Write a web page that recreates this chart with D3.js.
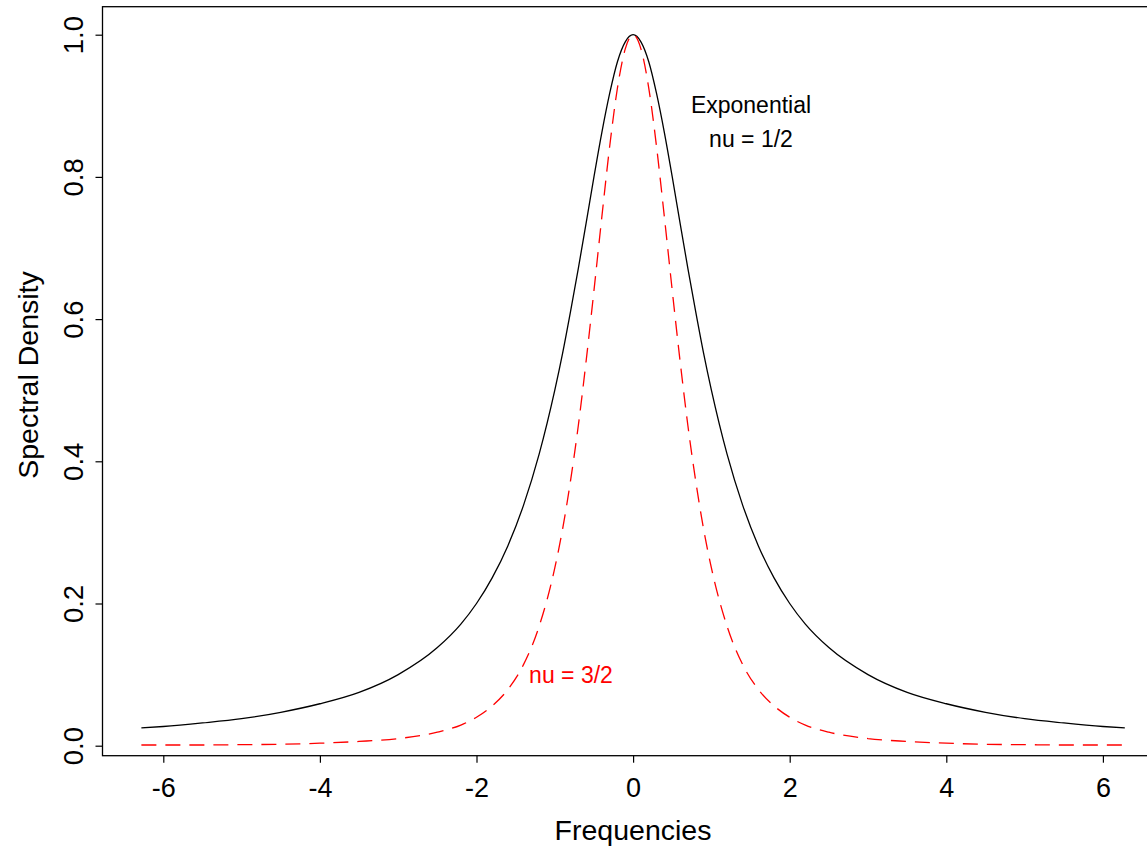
<!DOCTYPE html>
<html>
<head>
    <title>Spectral Density</title>
    <script src="https://cdn.jsdelivr.net/npm/d3@7"></script>
    <style>
        body { margin: 0; background: #fff; }
        text { font-family: "Liberation Sans", Arial, sans-serif; }
    </style>
</head>
<body>
<script>
    // frequencies and the two curves
    var freqs = [-6.28, -6, -5.5, -5, -4.5, -4, -3.5, -3, -2.5, -2.2, -2, -1.8, -1.6, -1.4, -1.2,
        -1, -0.9, -0.8, -0.7, -0.6, -0.5, -0.4, -0.3, -0.2, -0.1, 0,
        0.1, 0.2, 0.3, 0.4, 0.5, 0.6, 0.7, 0.8, 0.9, 1,
        1.2, 1.4, 1.6, 1.8, 2, 2.2, 2.5, 3, 3.5, 4, 4.5, 5, 5.5, 6, 6.28];

    var expDensity = [0.025, 0.027, 0.032, 0.038, 0.047, 0.059, 0.075, 0.100, 0.138, 0.171, 0.200, 0.236, 0.281, 0.338, 0.410,
        0.500, 0.552, 0.610, 0.671, 0.735, 0.800, 0.862, 0.917, 0.962, 0.990, 1.000,
        0.990, 0.962, 0.917, 0.862, 0.800, 0.735, 0.671, 0.610, 0.552, 0.500,
        0.410, 0.338, 0.281, 0.236, 0.200, 0.171, 0.138, 0.100, 0.075, 0.059, 0.047, 0.038, 0.032, 0.027, 0.025];

    var nu32Density = [0.001, 0.001, 0.001, 0.0015, 0.002, 0.0035, 0.006, 0.010, 0.019, 0.029, 0.040, 0.056, 0.079, 0.114, 0.168,
        0.250, 0.305, 0.372, 0.450, 0.541, 0.640, 0.743, 0.842, 0.925, 0.980, 1.000,
        0.980, 0.925, 0.842, 0.743, 0.640, 0.541, 0.450, 0.372, 0.305, 0.250,
        0.168, 0.114, 0.079, 0.056, 0.040, 0.029, 0.019, 0.010, 0.006, 0.0035, 0.002, 0.0015, 0.001, 0.001, 0.001];

    var xTicks = [-6, -4, -2, 0, 2, 4, 6];
    var yTicks = [0, 0.2, 0.4, 0.6, 0.8, 1.0];

    var W = 1147, H = 847;
    var box = {left: 102.5, top: 6.7, right: 1164, bottom: 755.7};

    var svg = d3.select("body").append("svg")
        .attr("width", W)
        .attr("height", H);

    var x = d3.scaleLinear().domain([-6, 6]).range([163.3, 1102.9]);
    var y = d3.scaleLinear().domain([0, 1]).range([745.7, 34.7]);

    // plot box
    svg.append("rect")
        .attr("x", box.left).attr("y", box.top)
        .attr("width", box.right - box.left).attr("height", box.bottom - box.top)
        .attr("fill", "none").attr("stroke", "#000").attr("stroke-width", 1.3);

    // axes
    var xAxis = d3.axisBottom(x).tickValues(xTicks).tickSize(7).tickPadding(15)
        .tickFormat(function (d) { return d3.format("d")(d).replace("−", "-"); });
    var gx = svg.append("g").attr("transform", "translate(0," + box.bottom + ")").call(xAxis);
    gx.select(".domain").remove();
    gx.selectAll("line").attr("stroke", "#000").attr("stroke-width", 1.2);
    gx.selectAll("text").attr("font-size", 27).attr("fill", "#000")
        .attr("font-family", "Liberation Sans, Arial, sans-serif");

    var yAxis = d3.axisLeft(y).tickValues(yTicks).tickSize(7).tickFormat(d3.format(".1f"));
    var gy = svg.append("g").attr("transform", "translate(" + box.left + ",0)").call(yAxis);
    gy.select(".domain").remove();
    gy.selectAll("line").attr("stroke", "#000").attr("stroke-width", 1.2);
    gy.selectAll("text")
        .attr("font-size", 27.5).attr("fill", "#000")
        .attr("font-family", "Liberation Sans, Arial, sans-serif")
        .attr("x", null).attr("dy", null)
        .attr("text-anchor", "middle")
        .attr("transform", "translate(-20,0) rotate(-90)");

    // curves
    var line = d3.line()
        .x(function (d) { return x(d[0]); })
        .y(function (d) { return y(d[1]); })
        .curve(d3.curveMonotoneX);

    svg.append("path")
        .datum(freqs.map(function (f, i) { return [f, expDensity[i]]; }))
        .attr("d", line)
        .attr("fill", "none").attr("stroke", "#000").attr("stroke-width", 1.3);

    svg.append("path")
        .datum(freqs.map(function (f, i) { return [f, nu32Density[i]]; }))
        .attr("d", line)
        .attr("fill", "none").attr("stroke", "#ff0000").attr("stroke-width", 1.3)
        .attr("stroke-dasharray", "15,9");

    // annotations
    svg.append("text").attr("x", 751).attr("y", 113).attr("text-anchor", "middle")
        .attr("font-size", 23).attr("fill", "#000").text("Exponential");
    svg.append("text").attr("x", 751).attr("y", 147).attr("text-anchor", "middle")
        .attr("font-size", 23).attr("fill", "#000").text("nu = 1/2");
    svg.append("text").attr("x", 571).attr("y", 683).attr("text-anchor", "middle")
        .attr("font-size", 23).attr("fill", "#ff0000").text("nu = 3/2");

    // axis titles
    svg.append("text").attr("x", 633).attr("y", 840).attr("text-anchor", "middle")
        .attr("font-size", 28.5).attr("fill", "#000").text("Frequencies");
    svg.append("text").attr("transform", "translate(38,375) rotate(-90)")
        .attr("text-anchor", "middle")
        .attr("font-size", 28.5).attr("fill", "#000").text("Spectral Density");
</script>
</body>
</html>
